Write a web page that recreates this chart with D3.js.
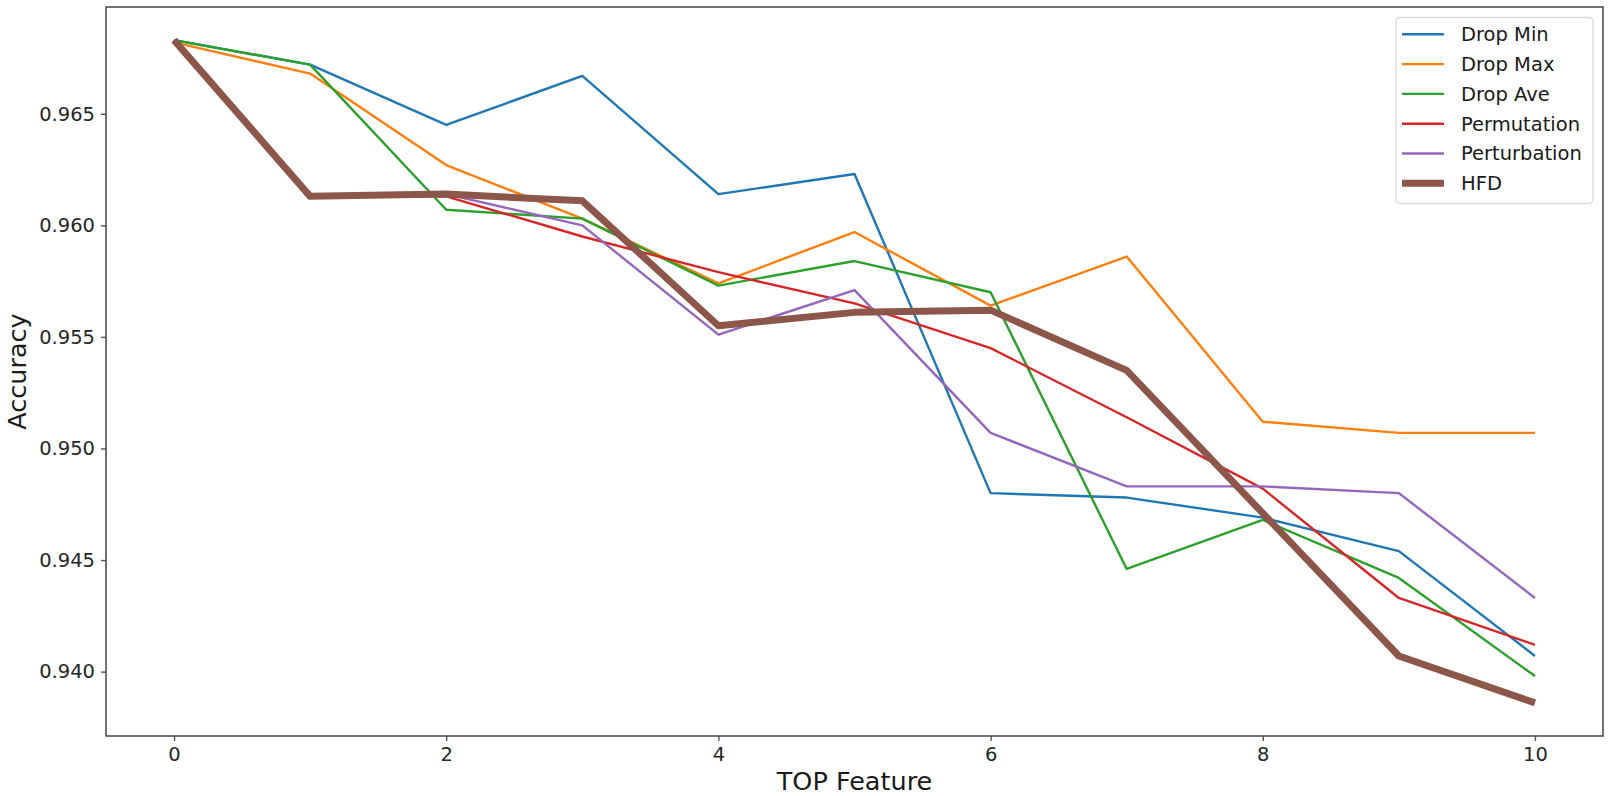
<!DOCTYPE html>
<html>
<head>
<meta charset="utf-8">
<script src="https://cdn.jsdelivr.net/npm/d3@7"></script>
<style>
  html, body { margin: 0; padding: 0; background: #fff; }
  svg { display: block; font-family: "DejaVu Sans", sans-serif; }
</style>
</head>
<body>
<svg id="chart" width="1610" height="796"></svg>
<script>
// ---- data ----
const topFeature = [0, 1, 2, 3, 4, 5, 6, 7, 8, 9, 10];
const seriesNames = ["Drop Min", "Drop Max", "Drop Ave", "Permutation", "Perturbation", "HFD"];
const dropMin      = [0.9683, 0.9672, 0.9645, 0.9667, 0.9614, 0.9623, 0.9480, 0.9478, 0.9469, 0.9454, 0.9407];
const dropMax      = [0.9682, 0.9668, 0.9627, 0.9603, 0.9574, 0.9597, 0.9564, 0.9586, 0.9512, 0.9507, 0.9507];
const dropAve      = [0.9683, 0.9672, 0.9607, 0.9603, 0.9573, 0.9584, 0.9570, 0.9446, 0.9468, 0.9442, 0.9398];
const permutation  = [0.9683, 0.9613, 0.9613, 0.9595, 0.9579, 0.9565, 0.9545, 0.9514, 0.9482, 0.9433, 0.9412];
const perturbation = [0.9683, 0.9613, 0.9614, 0.9600, 0.9551, 0.9571, 0.9507, 0.9483, 0.9483, 0.9480, 0.9433];
const hfd          = [0.9683, 0.9613, 0.9614, 0.9611, 0.9555, 0.9561, 0.9562, 0.9535, 0.9471, 0.9407, 0.9386];
const xTicks = [0, 2, 4, 6, 8, 10];
const yTicks = [0.940, 0.945, 0.950, 0.955, 0.960, 0.965];
const xLabel = "TOP Feature";
const yLabel = "Accuracy";

// ---- styling ----
const colors = ["#1f77b4", "#ff7f0e", "#2ca02c", "#d62728", "#9467bd", "#8c564b"];
const widths = [2.4, 2.4, 2.4, 2.4, 2.4, 7];
const values = [dropMin, dropMax, dropAve, permutation, perturbation, hfd];

const L = 106, T = 7, R = 1603, B = 736;
const svg = d3.select("#chart");
svg.append("rect").attr("width", 1610).attr("height", 796).attr("fill", "#fff");

const all = values.flat();
const lo = d3.min(all), hi = d3.max(all), pad = (hi - lo) * 0.05;
const x = d3.scaleLinear().domain([-0.5, 10.5]).range([L, R]);
const y = d3.scaleLinear().domain([lo - pad, hi + pad]).range([B, T]);

// lines
const line = d3.line().x((d, i) => x(topFeature[i])).y(d => y(d));
values.forEach((vals, k) => {
  svg.append("path")
    .datum(vals)
    .attr("d", line)
    .attr("fill", "none")
    .attr("stroke", colors[k])
    .attr("stroke-width", widths[k])
    .attr("stroke-linejoin", "round")
    .attr("stroke-linecap", "butt");
});

// axes
const xAxis = svg.append("g").attr("transform", `translate(0,${B})`)
  .call(d3.axisBottom(x).tickValues(xTicks).tickFormat(d3.format("d")).tickSize(5).tickPadding(6));
const yAxis = svg.append("g").attr("transform", `translate(${L},0)`)
  .call(d3.axisLeft(y).tickValues(yTicks).tickFormat(d3.format(".3f")).tickSize(5).tickPadding(6));
[xAxis, yAxis].forEach(g => {
  g.select(".domain").remove();
  g.selectAll(".tick line").attr("stroke", "#555").attr("stroke-width", 1.4);
  g.selectAll(".tick text").attr("fill", "#262626")
    .style("font-size", "19.5px").style("font-family", "DejaVu Sans, sans-serif");
});

// frame
svg.append("rect").attr("x", L).attr("y", T).attr("width", R - L).attr("height", B - T)
  .attr("fill", "none").attr("stroke", "#444").attr("stroke-width", 1.5);

// axis labels
svg.append("text").attr("x", (L + R) / 2).attr("y", 790)
  .attr("text-anchor", "middle").attr("fill", "#1a1a1a")
  .style("font-size", "25.5px").text(xLabel);
svg.append("text").attr("transform", `translate(26,${(T + B) / 2}) rotate(-90)`)
  .attr("text-anchor", "middle").attr("fill", "#1a1a1a")
  .style("font-size", "25.5px").text(yLabel);

// legend
const lg = svg.append("g");
lg.append("rect").attr("x", 1396).attr("y", 17.5).attr("width", 197).attr("height", 186)
  .attr("rx", 4).attr("fill", "#fff").attr("fill-opacity", 0.8)
  .attr("stroke", "#d9d9d9").attr("stroke-width", 1.3);
seriesNames.forEach((name, k) => {
  const yy = 34.3 + k * 29.8;
  lg.append("line").attr("x1", 1402).attr("x2", 1444).attr("y1", yy).attr("y2", yy)
    .attr("stroke", colors[k]).attr("stroke-width", widths[k]);
  lg.append("text").attr("x", 1461).attr("y", yy).attr("dy", "0.35em")
    .attr("fill", "#1a1a1a").style("font-size", "19.5px").text(name);
});
</script>
</body>
</html>
